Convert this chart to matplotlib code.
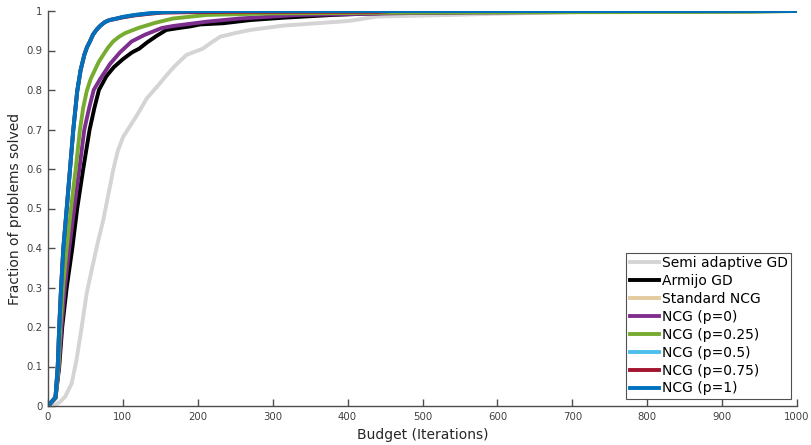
import matplotlib
matplotlib.use("Agg")
import matplotlib.pyplot as plt

plt.rcParams['font.family'] = ['DejaVu Sans']

labels = ["Semi adaptive GD", "Armijo GD", "Standard NCG", "NCG (p=0)",
          "NCG (p=0.25)", "NCG (p=0.5)", "NCG (p=0.75)", "NCG (p=1)"]
colors = ["#d4d4d4", "#000000", "#e3cba0", "#7e2f8e",
          "#77ac30", "#4dbeee", "#a2142f", "#0072bd"]

semi_x = [0, 7, 16, 23, 31.6, 38, 45, 51.7, 58.3, 66, 73.8, 80, 87, 93, 100.5, 110, 120, 132, 149.5, 158.5, 170, 185, 207, 218, 230, 252, 270, 314, 359, 403, 439, 492, 537, 600, 700, 760, 1000]
semi_y = [0, 0, 0.01, 0.024, 0.057, 0.116, 0.2, 0.286, 0.344, 0.41, 0.471, 0.53, 0.597, 0.645, 0.682, 0.71, 0.74, 0.779, 0.817, 0.838, 0.862, 0.889, 0.905, 0.92, 0.935, 0.945, 0.952, 0.963, 0.969, 0.975, 0.986, 0.988, 0.99, 0.993, 0.997, 1.0, 1.0]

armijo_x = [0, 10, 15, 19, 25, 32.5, 39, 47, 55.6, 62, 68, 78, 88, 100, 112, 122, 132, 145, 158, 175, 190, 203, 234, 270, 314, 380, 450, 600, 1000]
armijo_y = [0, 0.02, 0.1, 0.2, 0.3, 0.4, 0.5, 0.6, 0.7, 0.755, 0.8, 0.835, 0.858, 0.878, 0.895, 0.905, 0.92, 0.937, 0.952, 0.957, 0.961, 0.966, 0.969, 0.977, 0.983, 0.99, 0.995, 0.998, 1.0]

p0_x = [0, 10, 14.5, 18, 22.5, 28.4, 35, 41.8, 48.5, 55, 61, 69.4, 82.8, 96, 111.7, 129.5, 152, 167, 212, 256, 336, 490, 755, 1000]
p0_y = [0, 0.02, 0.1, 0.2, 0.3, 0.4, 0.5, 0.6, 0.7, 0.755, 0.8, 0.827, 0.866, 0.895, 0.923, 0.94, 0.957, 0.962, 0.973, 0.981, 0.99, 0.995, 0.998, 1.0]

p025_x = [0, 10, 14, 16.5, 20, 25, 30.7, 37, 42.7, 47, 51.7, 57, 62.7, 68, 73.8, 80, 87, 95, 103, 120.6, 143, 167, 212, 300, 500, 940, 1000]
p025_y = [0, 0.02, 0.1, 0.2, 0.3, 0.4, 0.5, 0.6, 0.7, 0.755, 0.797, 0.828, 0.851, 0.872, 0.889, 0.907, 0.923, 0.935, 0.944, 0.957, 0.97, 0.981, 0.99, 0.994, 0.996, 0.998, 1.0]

p1_x = [0, 10, 13, 15, 17.5, 20.5, 25, 29.4, 33.8, 39, 43.5, 48.5, 52, 56, 60, 65, 70, 76, 82, 89.5, 100, 116, 135, 152, 190, 250, 1000]
p1_y = [0, 0.022, 0.1, 0.2, 0.3, 0.4, 0.5, 0.6, 0.7, 0.797, 0.85, 0.889, 0.908, 0.923, 0.94, 0.953, 0.963, 0.972, 0.977, 0.98, 0.985, 0.99, 0.994, 0.997, 0.999, 1.0, 1.0]

std_x = [0, 10, 13, 15, 17.5, 20.5, 25, 29.4, 33.8, 39, 43.5, 48.5, 52, 56, 60, 65, 70, 76, 82, 89.5, 100, 116, 135, 152, 190, 250, 420, 1000]
std_y = [0, 0.022, 0.1, 0.2, 0.3, 0.4, 0.5, 0.6, 0.7, 0.797, 0.85, 0.889, 0.908, 0.923, 0.94, 0.953, 0.963, 0.972, 0.977, 0.979, 0.984, 0.989, 0.993, 0.996, 0.998, 0.999, 1.0, 1.0]

p05_x = [0, 10, 13, 15, 17.5, 20.5, 25, 29.4, 33.8, 39, 43.5, 48.5, 52, 56, 60, 65, 70, 76, 82, 89.5, 100, 116, 135, 152, 190, 250, 1000]
p05_y = [0, 0.022, 0.1, 0.2, 0.3, 0.4, 0.5, 0.6, 0.7, 0.797, 0.85, 0.889, 0.908, 0.923, 0.94, 0.953, 0.963, 0.972, 0.977, 0.98, 0.985, 0.99, 0.994, 0.997, 0.999, 1.0, 1.0]

p075_x = [0, 10, 13, 15, 17.5, 20.5, 25, 29.4, 33.8, 39, 43.5, 48.5, 52, 56, 60, 65, 70, 76, 82, 89.5, 100, 116, 135, 152, 190, 250, 440, 460, 1000]
p075_y = [0, 0.022, 0.1, 0.2, 0.3, 0.4, 0.5, 0.6, 0.7, 0.797, 0.85, 0.889, 0.908, 0.923, 0.94, 0.953, 0.963, 0.972, 0.977, 0.98, 0.984, 0.989, 0.993, 0.996, 0.997, 0.998, 0.998, 1.0, 1.0]

series = [(semi_x, semi_y), (armijo_x, armijo_y), (std_x, std_y), (p0_x, p0_y),
          (p025_x, p025_y), (p05_x, p05_y), (p075_x, p075_y), (p1_x, p1_y)]

xticks = list(range(0, 1001, 100))
yticks = [0, 0.1, 0.2, 0.3, 0.4, 0.5, 0.6, 0.7, 0.8, 0.9, 1]
ytick_labels = ["0", "0.1", "0.2", "0.3", "0.4", "0.5", "0.6", "0.7", "0.8", "0.9", "1"]

fig = plt.figure(figsize=(8.11, 4.45), dpi=100)
ax = fig.add_axes([48/811, 39/445, 749/811, 395/445])

for (x, y), lab, c in zip(series, labels, colors):
    ax.plot(x, y, color=c, lw=2.8, label=lab, solid_joinstyle='round')

ax.set_xlim(0, 1000)
ax.set_ylim(0, 1)
ax.set_xticks(xticks)
ax.set_yticks(yticks)
ax.set_yticklabels(ytick_labels)
axcol = "#4d4d4d"
for s in ["top", "right"]:
    ax.spines[s].set_visible(False)
for s in ["left", "bottom"]:
    ax.spines[s].set_color(axcol)
    ax.spines[s].set_linewidth(1.0)
ax.tick_params(direction='in', length=5, width=1.0, colors=axcol, labelsize=7.3, labelcolor="#404040", pad=4)
ax.set_xlabel("Budget (Iterations)", fontsize=10, color="#262626", labelpad=4.5)
ax.set_ylabel("Fraction of problems solved", fontsize=10, color="#262626", labelpad=3)

leg = ax.legend(loc='lower right', bbox_to_anchor=(0.992, 0.018), fontsize=10,
                frameon=True, fancybox=False, borderpad=0.25, labelspacing=0.28,
                handlelength=2.1, handletextpad=0.2, borderaxespad=0)
leg.get_frame().set_edgecolor("#262626")
leg.get_frame().set_linewidth(0.8)
for t in leg.get_texts():
    t.set_color("#000000")

fig.savefig("out.png", dpi=100)
